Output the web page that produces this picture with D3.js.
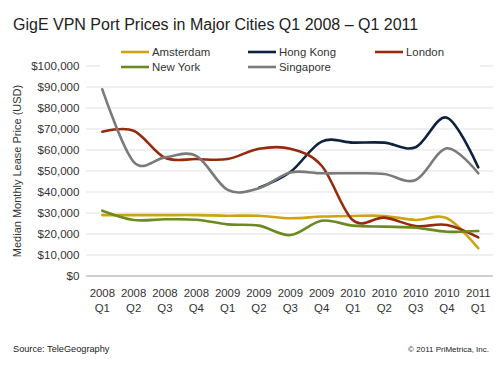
<!DOCTYPE html>
<html><head><meta charset="utf-8">
<script src="https://cdn.jsdelivr.net/npm/d3@7"></script>
<style>
body{margin:0;background:#fff;}
text{font-family:"Liberation Sans",Arial,Helvetica,sans-serif;}
</style></head>
<body><svg id="c" width="500" height="369"></svg>
<script>
const years = ["2008","2008","2008","2008","2009","2009","2009","2009","2010","2010","2010","2010","2011"];
const quarters = ["Q1","Q2","Q3","Q4","Q1","Q2","Q3","Q4","Q1","Q2","Q3","Q4","Q1"];
const amsterdam = [29000,29000,29000,29000,28700,28700,27500,28300,28600,28600,26700,27500,13200];
const hongKong = [null,null,null,null,null,42000,49500,64000,63500,63500,61300,75400,51700];
const london = [68700,69200,56300,55700,55700,60600,60600,52500,26500,27800,23800,24300,18400];
const newYork = [31100,26700,27000,26800,24600,24000,19500,26300,24000,23500,23000,21100,21400];
const singapore = [88900,54400,56500,57200,41000,41800,49300,48900,48900,48600,45700,60800,48900];
const seriesNames = ["Amsterdam","Hong Kong","London","New York","Singapore"];
const seriesColors = ["#cda311","#0e2240","#952a0e","#6b8a1f","#7a7a7a"];
const yTicks = [0,10000,20000,30000,40000,50000,60000,70000,80000,90000,100000];

const series = [amsterdam, hongKong, london, newYork, singapore];
const svg = d3.select("#c");
const idx = d3.range(years.length);
const x = d3.scaleLinear().domain([0, years.length-1]).range([102.3, 478.3]);
const y = d3.scaleLinear().domain([0,100000]).range([276,66]);
const gx0 = 86, gx1 = 493;

// title
svg.append("text").attr("x",13).attr("y",30).attr("font-size",16).attr("fill","#222")
  .text("GigE VPN Port Prices in Major Cities Q1 2008 \u2013 Q1 2011");

// gridlines
svg.append("g").selectAll("line").data(yTicks.filter(d=>d>0)).join("line")
  .attr("x1",gx0).attr("x2",gx1).attr("y1",d=>y(d)).attr("y2",d=>y(d))
  .attr("stroke","#e2e2e2").attr("stroke-width",1.2);
// baseline
svg.append("line").attr("x1",gx0).attr("x2",gx1).attr("y1",y(0)).attr("y2",y(0))
  .attr("stroke","#a0a0a0").attr("stroke-width",1.2);

// y axis labels
const fmt = d3.format("$,");
svg.append("g").selectAll("text").data(yTicks).join("text")
  .attr("x",79.5).attr("y",d=>y(d)).attr("dy","0.35em").attr("text-anchor","end")
  .attr("font-size",11.6).attr("fill","#333").text(d=>fmt(d));

// y title
svg.append("text").attr("transform","translate(21,171) rotate(-90)")
  .attr("text-anchor","middle").attr("font-size",11).attr("fill","#333")
  .text("Median Monthly Lease Price (USD)");

// x labels
const xl = svg.append("g").selectAll("g").data(idx).join("g");
xl.append("text").attr("x",i=>x(i)).attr("y",297).attr("text-anchor","middle")
  .attr("font-size",11.4).attr("fill","#333").text(i=>years[i]);
xl.append("text").attr("x",i=>x(i)).attr("y",312).attr("text-anchor","middle")
  .attr("font-size",11.4).attr("fill","#333").text(i=>quarters[i]);

// legend background (covers top gridline)
svg.append("rect").attr("x",100).attr("y",42).attr("width",380).attr("height",33).attr("fill","#fff");

// lines
const line = d3.line().defined(d=>d[1]!=null).x(d=>x(d[0])).y(d=>y(d[1]))
  .curve(d3.curveCatmullRom.alpha(0));
series.forEach((s,k)=>{
  svg.append("path").datum(s.map((v,i)=>[i,v])).attr("d",line)
    .attr("fill","none").attr("stroke",seriesColors[k]).attr("stroke-width",2.6)
    .attr("stroke-linejoin","round").attr("stroke-linecap","round");
});

// legend
const legPos = [[121,52],[248,52],[375,52],[121,67],[248,67]];
seriesNames.forEach((n,k)=>{
  const [lx,ly] = legPos[k];
  svg.append("line").attr("x1",lx).attr("x2",lx+28).attr("y1",ly).attr("y2",ly)
    .attr("stroke",seriesColors[k]).attr("stroke-width",2.6);
  svg.append("text").attr("x",lx+31).attr("y",ly).attr("dy","0.35em")
    .attr("font-size",11.4).attr("fill","#333").text(n);
});

// footer
svg.append("text").attr("x",13).attr("y",352).attr("font-size",9.2).attr("fill","#222")
  .text("Source: TeleGeography");
svg.append("text").attr("x",489).attr("y",352).attr("text-anchor","end").attr("font-size",8).attr("fill","#222")
  .text("\u00a9 2011 PriMetrica, Inc.");
</script></body></html>
